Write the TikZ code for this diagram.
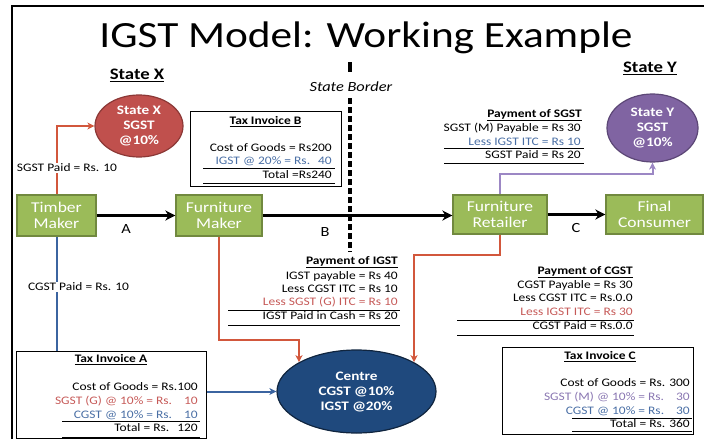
\documentclass[tikz,border=0pt]{standalone}
\usepackage{fontspec}
\setmainfont{Carlito}[FakeStretch=1.17]
\usetikzlibrary{arrows.meta,shapes.geometric,positioning}

\definecolor{procgreen}{HTML}{9BBB59}
\definecolor{procedge}{HTML}{71893F}
\definecolor{sgstred}{HTML}{C0504D}
\definecolor{sgstrededge}{HTML}{8C3836}
\definecolor{sgstpurple}{HTML}{8064A2}
\definecolor{purpleedge}{HTML}{5C4776}
\definecolor{centreblue}{HTML}{1F497D}
\definecolor{centreedge}{HTML}{10253F}
\definecolor{redline}{HTML}{D2573C}
\definecolor{blueline}{HTML}{3B64A0}
\definecolor{purpleline}{HTML}{9C87C4}
\definecolor{redtext}{HTML}{C65A58}
\definecolor{bluetext}{HTML}{4A6FA5}
\definecolor{purpletext}{HTML}{8A77B2}

\tikzset{
  proc/.style={draw=procedge, fill=procgreen, line width=1.2pt, text=white, align=center,
    inner sep=0pt, font=\fontsize{15}{16}\selectfont},
  pool/.style={ellipse, line width=1.2pt, text=white, align=center, inner sep=0pt,
    font=\bfseries\fontsize{13}{15}\selectfont},
  flow/.style={line width=2.5pt, -{Stealth[length=10pt,width=10pt,inset=3pt]}},
  paid/.style={line width=2pt, -{Stealth[length=7pt,width=7pt,inset=2pt]}},
  invbox/.style={draw, line width=1pt, inner sep=0pt},
  txt/.style={inner sep=0pt, anchor=east, font=\fontsize{11.5}{13}\selectfont},
  head/.style={inner sep=0pt, font=\bfseries\fontsize{11.5}{13}\selectfont},
  note/.style={fill=white, inner sep=1pt, font=\fontsize{11.5}{13}\selectfont},
  lbl/.style={inner sep=0pt, font=\fontsize{14}{16}\selectfont},
  rule/.style={line width=0.8pt}
}

\begin{document}
\begin{tikzpicture}[x=1pt,y=-1pt]
\useasboundingbox (0,0) rectangle (704,439);
% frame
\draw[line width=1.5pt] (12,439) -- (12,6) -- (704,6);

\node[font=\fontsize{37}{40}\selectfont] (title) at (366,38) {IGST Model: Working Example};
\node[font=\bfseries\fontsize{16}{18}\selectfont] (headx) at (137,75) {\underline{State X}};
\node[font=\bfseries\fontsize{16}{18}\selectfont] (heady) at (650,68) {\underline{State Y}};

% state border
\node[font=\itshape\fontsize{14}{16}\selectfont] (border) at (351,87) {State Border};
\draw[line width=4pt] (350,62) -- (350,72);
\draw[line width=4pt, dash pattern=on 6pt off 3pt] (350,98) -- (350,252);

% tax pools
\node[pool, fill=sgstred, draw=sgstrededge, minimum width=88, minimum height=62] (statex) at (139,126) {State X\\SGST\\@10\%};
\node[pool, fill=sgstpurple, draw=purpleedge, minimum width=91, minimum height=68] (statey) at (652.5,128) {State Y\\SGST\\@10\%};
\node[pool, fill=centreblue, draw=centreedge, minimum width=159, minimum height=83] (centre) at (356.5,391.5) {Centre\\CGST @10\%\\IGST @20\%};

% supply chain
\node[proc, minimum width=79, minimum height=41] (timber) at (56.5,215.5) {Timber\\Maker};
\node[proc, minimum width=86, minimum height=41] (fmaker) at (219,215.5) {Furniture\\Maker};
\node[proc, minimum width=94, minimum height=39] (retail) at (500,214.5) {Furniture\\Retailer};
\node[proc, minimum width=97, minimum height=39] (consumer) at (654.5,214.5) {Final\\Consumer};

\draw[flow] (timber) -- (fmaker);
\draw[flow] (fmaker.east) -- (fmaker.east -| retail.west);
\draw[flow] (retail) -- (consumer);
\node[lbl] (la) at (126,229) {A};
\node[lbl] (lb) at (325,232) {B};
\node[lbl] (lc) at (576,228) {C};

% tax invoices
\node[invbox, minimum width=151, minimum height=75] (invB) at (265.5,148.5) {};
\node[invbox, minimum width=190, minimum height=87] (invA) at (111,394.5) {};
\node[invbox, minimum width=191, minimum height=87] (invC) at (597.5,390.5) {};

% payments
\draw[paid, redline] (timber.north) |- (statex.west);
\node[note] (sgstpaid) at (67,168) {SGST Paid = Rs. 10};
\draw[line width=2pt, blueline] (timber.south) -- (timber.south |- invA.north);
\node[note] (cgstpaid) at (78.5,287) {CGST Paid = Rs. 10};
\draw[paid, blueline] (invA.east |- centre.west) -- (centre.west);
\draw[paid, redline] (fmaker.south) -- ++(0,103) -| (centre.153);
\draw[paid, redline] (retail.south) -- ++(0,20.5) -| (centre.27);
\draw[paid, purpleline] (retail.north) -- ++(0,-20) -| (statey.south);

% invoice B
\node[head] (invBt) at (265.5,122) {\underline{Tax Invoice B}};
\node[txt] (invB1) at (332,148) {Cost of Goods = Rs200};
\node[txt, text=bluetext] (invB2) at (332,161) {IGST @ 20\% = Rs.\hspace{8pt}40};
\node[txt] (invB3) at (332,175) {Total =Rs240};
\draw[rule] (203,168) -- (335,168);
\draw[rule] (203,183) -- (335,183);

% invoice A
\node[head] (invAt) at (111,360) {\underline{Tax Invoice A}};
\node[txt] (invA1) at (198,387) {Cost of Goods = Rs.100};
\node[txt, text=redtext] (invA2) at (198,401) {SGST (G) @ 10\% = Rs.\hspace{12pt}10};
\node[txt, text=bluetext] (invA3) at (198,415) {CGST @ 10\% = Rs.\hspace{12pt}10};
\node[txt] (invA4) at (198,428) {Total = Rs.\hspace{8pt}120};
\draw[rule] (62,421) -- (200,421);
\draw[rule] (62,437) -- (200,437);

% invoice C
\node[head] (invCt) at (600,357) {\underline{Tax Invoice C}};
\node[txt] (invC1) at (690,383) {Cost of Goods = Rs. 300};
\node[txt, text=purpletext] (invC2) at (690,397) {SGST (M) @ 10\% = Rs.\hspace{12pt}30};
\node[txt, text=bluetext] (invC3) at (690,411) {CGST @ 10\% = Rs.\hspace{12pt}30};
\node[txt] (invC4) at (690,424) {Total = Rs. 360};
\draw[rule] (572,418) -- (692,418);
\draw[rule] (572,431) -- (692,431);

% payment of SGST
\node[head, anchor=east] (sgstt) at (582,115) {\underline{Payment of SGST}};
\node[txt] (sgst1) at (581,128) {SGST (M) Payable = Rs 30};
\node[txt, text=bluetext] (sgst2) at (581,142) {Less IGST ITC = Rs 10};
\node[txt] (sgst3) at (581,155) {SGST Paid = Rs 20};
\draw[rule] (444,148) -- (584,148);
\draw[rule] (444,163) -- (584,163);

% payment of IGST
\node[head, anchor=east] (igstt) at (398,262) {\underline{Payment of IGST}};
\node[txt] (igst1) at (398,276) {IGST payable = Rs 40};
\node[txt] (igst2) at (398,289) {Less CGST ITC = Rs 10};
\node[txt, text=redtext] (igst3) at (398,302) {Less SGST (G) ITC = Rs 10};
\node[txt] (igst4) at (398,316) {IGST Paid in Cash = Rs 20};
\draw[rule] (228,310) -- (400,310);
\draw[rule] (228,325) -- (400,325);

% payment of CGST
\node[head, anchor=east] (cgstt) at (633,272) {\underline{Payment of CGST}};
\node[txt] (cgst1) at (633,285) {CGST Payable = Rs 30};
\node[txt] (cgst2) at (633,298) {Less CGST ITC = Rs.0.0};
\node[txt, text=redtext] (cgst3) at (633,312) {Less IGST ITC = Rs 30};
\node[txt] (cgst4) at (633,326) {CGST Paid = Rs.0.0};
\draw[rule] (457,320) -- (634,320);
\draw[rule] (457,335) -- (634,335);
\end{tikzpicture}
\end{document}
